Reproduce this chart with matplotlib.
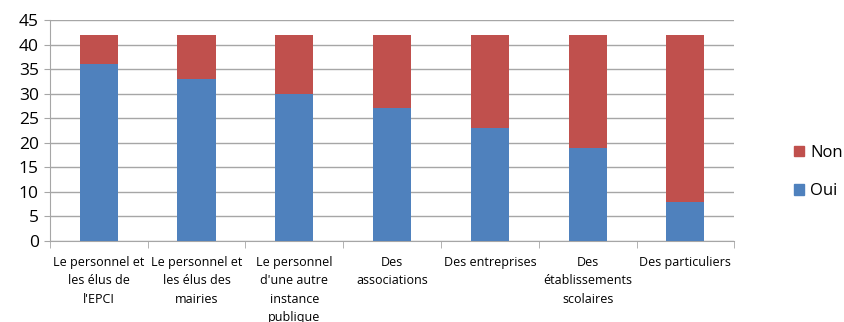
import numpy as np
import matplotlib.pyplot as plt
from matplotlib.patches import Patch

plt.rcParams['font.family'] = ['Open Sans', 'DejaVu Sans']

categories = ["Le personnel et\nles élus de\nl'EPCI",
              "Le personnel et\nles élus des\nmairies",
              "Le personnel\nd'une autre\ninstance\npublique",
              "Des\nassociations",
              "Des entreprises",
              "Des\nétablissements\nscolaires",
              "Des particuliers"]
oui = [36, 33, 30, 27, 23, 19, 8]
non = [6, 9, 12, 15, 19, 23, 34]

bleu = '#4F81BD'
rouge = '#C0504D'
gris = '#A6A6A6'

fig = plt.figure(figsize=(8.45, 3.22), dpi=100)
ax = fig.add_axes([0.059, 0.2516, 0.81, 0.6864])

x = np.arange(len(categories))
ax.bar(x, oui, width=0.39, color=bleu, zorder=3)
ax.bar(x, non, width=0.39, bottom=oui, color=rouge, zorder=3)

ax.set_xlim(-0.5, len(categories) - 0.5)
ax.set_ylim(0, 45)
ax.set_yticks(range(0, 46, 5))
ax.yaxis.grid(True, color=gris, linewidth=1, zorder=0)
ax.tick_params(axis='y', labelsize=12.5, length=4, color=gris, pad=4)

ax.set_xticks(x)
ax.set_xticklabels(categories, fontsize=9, linespacing=1.52, va='top')
ax.tick_params(axis='x', length=0, pad=11)
ax.set_xticks(np.arange(-0.5, len(categories)), minor=True)
ax.tick_params(axis='x', which='minor', length=5, color=gris)

for s in ['top', 'right']:
    ax.spines[s].set_visible(False)
for s in ['left', 'bottom']:
    ax.spines[s].set_color(gris)

handles = [Patch(color=rouge, label='Non'), Patch(color=bleu, label='Oui')]
fig.legend(handles=handles, loc='center left', bbox_to_anchor=(0.94, 0.466),
           frameon=False, fontsize=12, handlelength=0.6, handleheight=0.6,
           handletextpad=0.35, labelspacing=1.35, borderaxespad=0, borderpad=0)

fig.savefig('out.png', dpi=100)
